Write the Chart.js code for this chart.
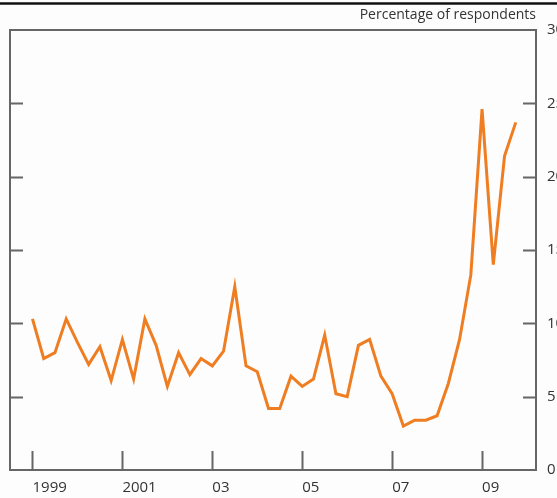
<!DOCTYPE html>
<html lang="en">
<head>
<meta charset="UTF-8">
<title>Percentage of respondents</title>
<script src="https://cdn.jsdelivr.net/npm/chart.js"></script>
<style>
  html, body { margin: 0; padding: 0; background: #fdfdfd; }
  #wrap { width: 557px; height: 498px; position: relative; }
</style>
</head>
<body>
<div id="wrap"><canvas id="chart"></canvas></div>
<script>
// quarterly survey, 1999 Q1 to 2009 Q4
var quarters = [];
for (var yr = 1999; yr <= 2009; yr++) {
    for (var q = 1; q <= 4; q++) quarters.push(yr + ' Q' + q);
}
var values = [
    10.3, 7.6, 8.0, 10.3,   // 1999
    8.7, 7.2, 8.4, 6.1,     // 2000
    8.9, 6.2, 10.3, 8.5,    // 2001
    5.7, 8.0, 6.5, 7.6,     // 2002
    7.1, 8.1, 12.5, 7.1,    // 2003
    6.7, 4.2, 4.2, 6.4,     // 2004
    5.7, 6.2, 9.2, 5.2,     // 2005
    5.0, 8.5, 8.9, 6.4,     // 2006
    5.2, 3.0, 3.4, 3.4,     // 2007
    3.7, 5.9, 8.9, 13.3,    // 2008
    24.6, 14.0, 21.4, 23.7  // 2009
];
var xTickIndex = [0, 8, 16, 24, 32, 40];
var xTickLabels = ['1999', '2001', '03', '05', '07', '09'];
var yTicks = [0, 5, 10, 15, 20, 25, 30];

var points = values.map(function (v, i) { return { x: i, y: v }; });

var FONT = '"Open Sans", "DejaVu Sans", sans-serif';
var AXIS = '#666666';

// frame, inward tick marks, title and the black rule on top
var decor = {
    id: 'decor',
    afterDraw: function (chart) {
        var ctx = chart.ctx, a = chart.chartArea;
        var xs = chart.scales.x, ys = chart.scales.y;
        ctx.save();
        ctx.strokeStyle = '#111';
        ctx.lineWidth = 2.5;
        ctx.beginPath(); ctx.moveTo(0, 3.5); ctx.lineTo(chart.width, 3.5); ctx.stroke();

        ctx.strokeStyle = AXIS;
        ctx.lineWidth = 2;
        ctx.strokeRect(a.left, a.top, a.right - a.left, a.bottom - a.top);

        ctx.beginPath();
        yTicks.forEach(function (t) {
            if (t === 0 || t === 30) return;
            var y = Math.round(ys.getPixelForValue(t)) + 0.5;
            ctx.moveTo(a.left, y); ctx.lineTo(a.left + 13, y);
            ctx.moveTo(a.right, y); ctx.lineTo(a.right - 13, y);
        });
        xTickIndex.forEach(function (t) {
            var x = Math.round(xs.getPixelForValue(t)) + 0.5;
            ctx.moveTo(x, a.bottom); ctx.lineTo(x, a.bottom - 19);
        });
        ctx.stroke();

        ctx.fillStyle = '#333';
        ctx.font = '14px ' + FONT;
        ctx.textAlign = 'right';
        ctx.textBaseline = 'middle';
        ctx.fillText('Percentage of respondents', a.right, 15);
        ctx.restore();
    }
};

new Chart(document.getElementById('chart'), {
    type: 'line',
    data: {
        datasets: [{
            label: 'Percentage of respondents',
            data: points,
            borderColor: '#ef7d22',
            borderWidth: 3,
            pointRadius: 0,
            tension: 0,
            fill: false
        }]
    },
    options: {
        responsive: true,
        maintainAspectRatio: false,
        animation: false,
        layout: { padding: { left: 10, top: 30, right: 0, bottom: 0 } },
        plugins: { legend: { display: false }, tooltip: { enabled: false } },
        scales: {
            x: {
                type: 'linear',
                min: -2,
                max: 44.8,
                grid: { display: false, drawTicks: false },
                border: { display: false },
                afterBuildTicks: function (scale) {
                    scale.ticks = xTickIndex.map(function (v) { return { value: v }; });
                },
                afterFit: function (scale) { scale.height = 28; },
                ticks: {
                    align: 'start',
                    padding: 9,
                    maxRotation: 0,
                    autoSkip: false,
                    color: '#333',
                    font: { family: FONT, size: 15 },
                    callback: function (v) {
                        var k = xTickIndex.indexOf(v);
                        return k >= 0 ? xTickLabels[k] : '';
                    }
                }
            },
            y: {
                position: 'right',
                min: 0,
                max: 30,
                grid: { display: false, drawTicks: false },
                border: { display: false },
                afterBuildTicks: function (scale) {
                    scale.ticks = yTicks.map(function (v) { return { value: v }; });
                },
                afterFit: function (scale) { scale.width = 21; },
                ticks: {
                    padding: 11,
                    color: '#333',
                    font: { family: FONT, size: 15 }
                }
            }
        }
    },
    plugins: [decor]
});
</script>
</body>
</html>
